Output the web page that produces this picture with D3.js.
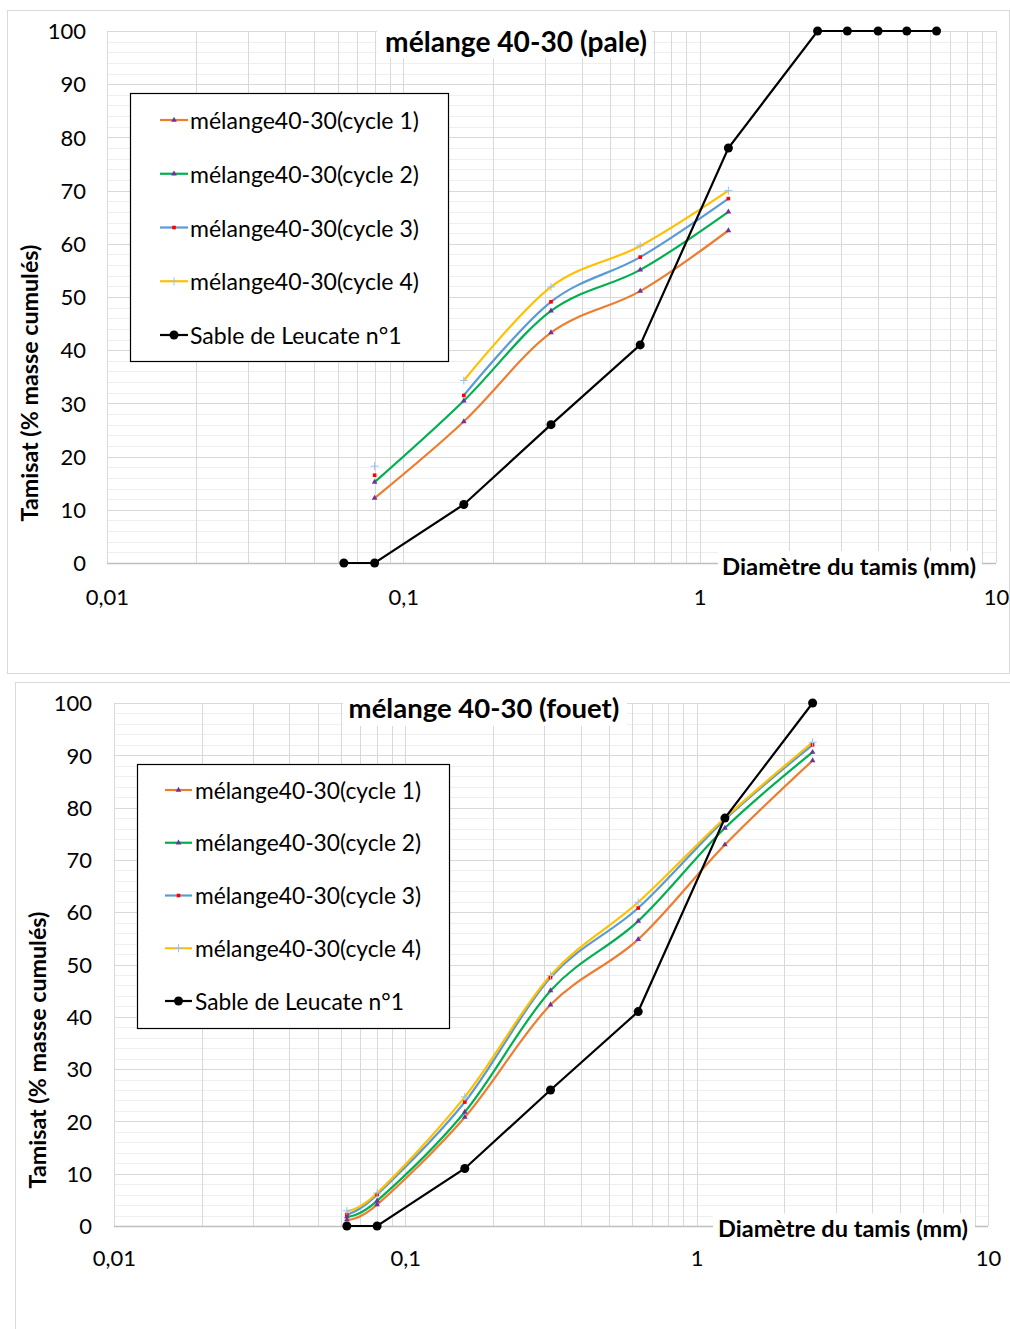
<!DOCTYPE html>
<html><head><meta charset="utf-8">
<script src="https://cdn.jsdelivr.net/npm/d3@7"></script>
<style>body{margin:0;background:#fff}svg{display:block}text{font-family:Lato,"Open Sans",sans-serif;fill:#000}</style>
</head><body>
<script>
// ---------- DATA ----------
const seriesNames = ["mélange40-30(cycle 1)","mélange40-30(cycle 2)","mélange40-30(cycle 3)","mélange40-30(cycle 4)","Sable de Leucate n°1"];
const xTickValues = [0.01, 0.1, 1, 10];
const xTickLabels = ["0,01", "0,1", "1", "10"];
const yTickValues = [0,10,20,30,40,50,60,70,80,90,100];

// Chart 1 : pale
const paleTitle = "mélange 40-30 (pale)";
const paleSieves = [0.08, 0.16, 0.315, 0.63, 1.25];
const paleCycle1 = [12.2, 26.6, 43.3, 51.1, 62.5];
const paleCycle2 = [15.2, 30.5, 47.4, 55.1, 66.0];
const paleCycle3 = [16.5, 31.5, 49.1, 57.5, 68.5];
const paleCycle4 = [18.2, 34.3, 51.9, 59.6, 70.0];
const paleLineStart = [0, 0, 1, 1];           // first point joined by the line
const sableSievesPale = [0.063, 0.08, 0.16, 0.315, 0.63, 1.25, 2.5, 3.15, 4, 5, 6.3];
const sablePale = [0, 0, 11, 26, 41, 78, 100, 100, 100, 100, 100];

// Chart 2 : fouet
const fouetTitle = "mélange 40-30 (fouet)";
const fouetSieves = [0.063, 0.08, 0.16, 0.315, 0.63, 1.25, 2.5];
const fouetCycle1 = [1.2, 4.1, 20.8, 42.3, 54.8, 72.9, 89.0];
const fouetCycle2 = [1.8, 4.8, 21.8, 45.0, 58.3, 76.1, 90.6];
const fouetCycle3 = [2.2, 6.0, 23.7, 47.5, 60.8, 77.7, 92.0];
const fouetCycle4 = [2.9, 6.3, 24.7, 47.9, 61.9, 78.0, 92.5];
const fouetLineStart = [0, 0, 0, 0];
const sableSievesFouet = [0.063, 0.08, 0.16, 0.315, 0.63, 1.25, 2.5];
const sableFouet = [0, 0, 11, 26, 41, 78, 100];

const xAxisTitle = "Diamètre du tamis (mm)";
const yAxisTitle = "Tamisat (% masse cumulés)";

// ---------- STYLE ----------
const lineColors = ["#ED7D31", "#00B050", "#5B9BD5", "#FFC000"];
const markerKinds = ["tri", "tri", "sq", "plus"];
const markerColors = ["#7030A0", "#7030A0", "#FF0000", "#9DC3E6"];

const W = 1010, H = 1329;
const svg = d3.select("body").append("svg").attr("width", W).attr("height", H);

function fitFont(sel, target, start) {
  sel.attr("font-size", start);
  const w = sel.node().getComputedTextLength();
  sel.attr("font-size", start * target / w);
}

function drawMarker(g, kind, color, cx, cy) {
  if (kind === "tri") {
    g.append("path").attr("d", d3.symbol().type(d3.symbolTriangle).size(14)()).attr("transform", `translate(${cx},${cy})`).attr("fill", color);
  } else if (kind === "sq") {
    g.append("rect").attr("x", cx - 1.8).attr("y", cy - 1.8).attr("width", 3.6).attr("height", 3.6).attr("fill", color);
  } else {
    g.append("path").attr("d", `M${cx-4},${cy}H${cx+4}M${cx},${cy-4}V${cy+4}`).attr("stroke", color).attr("stroke-width", 1);
  }
}

function drawChart(cfg) {
  const g = svg.append("g");
  g.append("rect").attr("x", cfg.frame[0] + 0.5).attr("y", cfg.frame[1] + 0.5).attr("width", cfg.frame[2]).attr("height", cfg.frame[3])
    .attr("fill", "#fff").attr("stroke", "#d9d9d9").attr("stroke-width", 1);

  const x = d3.scaleLog().domain([0.01, 10]).range([cfg.px0, cfg.px1]);
  const y = d3.scaleLinear().domain([0, 100]).range([cfg.py0, cfg.py1]);

  // horizontal grid
  const hMinor = d3.range(0, 101, 2).filter(v => v % 10 !== 0);
  g.append("g").selectAll("line").data(hMinor).join("line")
    .attr("x1", cfg.px0).attr("x2", cfg.px1).attr("y1", d => Math.round(y(d)) + 0.5).attr("y2", d => Math.round(y(d)) + 0.5)
    .attr("stroke", "#efefef").attr("stroke-width", 1);
  // vertical grid
  g.append("g").selectAll("line").data(x.ticks()).join("line")
    .attr("y1", cfg.py0).attr("y2", cfg.py1).attr("x1", d => Math.round(x(d)) + 0.5).attr("x2", d => Math.round(x(d)) + 0.5)
    .attr("stroke", "#d9d9d9").attr("stroke-width", 1);
  g.append("g").selectAll("line").data(yTickValues.slice(1)).join("line")
    .attr("x1", cfg.px0).attr("x2", cfg.px1).attr("y1", d => Math.round(y(d)) + 0.5).attr("y2", d => Math.round(y(d)) + 0.5)
    .attr("stroke", "#d9d9d9").attr("stroke-width", 1);
  // x axis line
  g.append("line").attr("x1", cfg.px0).attr("x2", cfg.px1).attr("y1", Math.round(y(0)) + 0.5).attr("y2", Math.round(y(0)) + 0.5)
    .attr("stroke", "#bfbfbf").attr("stroke-width", 1.3);

  // tick labels via axes
  const ya = g.append("g").attr("transform", `translate(${cfg.yLabX},0)`)
    .call(d3.axisLeft(y).tickValues(yTickValues).tickSize(0).tickPadding(0));
  ya.select(".domain").remove();
  ya.selectAll("text").attr("font-size", 22).attr("font-family", "Lato").attr("dy", "0.35em").attr("fill", "#000");
  const xa = g.append("g").attr("transform", `translate(0,${cfg.xLabY})`)
    .call(d3.axisBottom(x).tickValues(xTickValues).tickFormat((d, i) => xTickLabels[i]).tickSize(0).tickPadding(0));
  xa.select(".domain").remove();
  xa.selectAll("text").attr("font-size", 22).attr("font-family", "Lato").attr("dy", "0.35em").attr("fill", "#000");

  // title
  g.append("rect").attr("x", cfg.titleBox[0]).attr("y", cfg.titleBox[1]).attr("width", cfg.titleBox[2]).attr("height", cfg.titleBox[3]).attr("fill", "#fff");
  const t = g.append("text").text(cfg.title).attr("x", cfg.titleX).attr("y", cfg.titleY).attr("text-anchor", "middle")
    .attr("dominant-baseline", "central").attr("font-weight", "bold");
  fitFont(t, cfg.titleW, 24);

  // x axis title
  g.append("rect").attr("x", cfg.xtBox[0]).attr("y", cfg.xtBox[1]).attr("width", cfg.xtBox[2]).attr("height", cfg.xtBox[3]).attr("fill", "#fff");
  g.append("text").text(xAxisTitle).attr("x", cfg.xtX).attr("y", cfg.xtY).attr("dominant-baseline", "central")
    .attr("font-weight", "bold").attr("font-size", 22).attr("textLength", cfg.xtW).attr("lengthAdjust", "spacingAndGlyphs");

  // y axis title
  const yt = g.append("text").text(yAxisTitle).attr("transform", `translate(${cfg.ytX},${cfg.ytY}) rotate(-90)`)
    .attr("text-anchor", "middle").attr("dominant-baseline", "central").attr("font-weight", "bold");
  fitFont(yt, cfg.ytW, 20);

  // series
  const curve = d3.curveCatmullRom.alpha(0);
  cfg.cycles.forEach((vals, i) => {
    const pts = cfg.sieves.map((s, j) => [s, vals[j]]);
    const linePts = pts.slice(cfg.lineStart[i]);
    g.append("path").attr("d", d3.line().x(d => x(d[0])).y(d => y(d[1])).curve(curve)(linePts))
      .attr("fill", "none").attr("stroke", lineColors[i]).attr("stroke-width", 2.2);
  });
  cfg.cycles.forEach((vals, i) => {
    const mg = g.append("g");
    cfg.sieves.forEach((s, j) => drawMarker(mg, markerKinds[i], markerColors[i], x(s), y(vals[j])));
  });
  const sp = cfg.sableSieves.map((s, j) => [s, cfg.sable[j]]);
  g.append("path").attr("d", d3.line().x(d => x(d[0])).y(d => y(d[1]))(sp))
    .attr("fill", "none").attr("stroke", "#000").attr("stroke-width", 2.2);
  g.append("g").selectAll("circle").data(sp).join("circle")
    .attr("cx", d => x(d[0])).attr("cy", d => y(d[1])).attr("r", 4.5).attr("fill", "#000");

  // legend
  const L = cfg.legend;
  g.append("rect").attr("x", L.x + 0.5).attr("y", L.y + 0.5).attr("width", L.w).attr("height", L.h)
    .attr("fill", "#fff").attr("stroke", "#000").attr("stroke-width", 1.2);
  seriesNames.forEach((name, i) => {
    const ry = L.row0 + L.step * i;
    const color = i < 4 ? lineColors[i] : "#000";
    g.append("line").attr("x1", L.lx0).attr("x2", L.lx1).attr("y1", ry).attr("y2", ry).attr("stroke", color).attr("stroke-width", 2.2);
    if (i < 4) drawMarker(g, markerKinds[i], markerColors[i], (L.lx0 + L.lx1) / 2, ry);
    else g.append("circle").attr("cx", (L.lx0 + L.lx1) / 2).attr("cy", ry).attr("r", 4.5).attr("fill", "#000");
    const tx = g.append("text").text(name).attr("x", L.tx).attr("y", ry).attr("dominant-baseline", "central");
    if (i === 0) { fitFont(tx, L.textW, 21); L.fs = +tx.attr("font-size"); } else tx.attr("font-size", L.fs);
  });
}

drawChart({
  frame: [7, 10, 1002, 663],
  px0: 107, px1: 996, py0: 563, py1: 31,
  yLabX: 86, xLabY: 597,
  title: paleTitle, titleX: 516, titleY: 41, titleW: 262, titleBox: [377, 22, 275, 36],
  xtX: 722, xtY: 566, xtW: 254, xtBox: [718, 551, 264, 30],
  ytX: 29, ytY: 383, ytW: 277,
  sieves: paleSieves, cycles: [paleCycle1, paleCycle2, paleCycle3, paleCycle4], lineStart: paleLineStart,
  sableSieves: sableSievesPale, sable: sablePale,
  legend: { x: 130, y: 93, w: 318, h: 268, row0: 120, step: 53.75, lx0: 160, lx1: 188, tx: 190, textW: 229 }
});

drawChart({
  frame: [15, 682, 995, 660],
  px0: 114, px1: 988, py0: 1226, py1: 703,
  yLabX: 92, xLabY: 1258,
  title: fouetTitle, titleX: 484, titleY: 707, titleW: 271, titleBox: [343, 688, 284, 38],
  xtX: 718, xtY: 1228, xtW: 250, xtBox: [713, 1213, 262, 30],
  ytX: 37, ytY: 1050, ytW: 277,
  sieves: fouetSieves, cycles: [fouetCycle1, fouetCycle2, fouetCycle3, fouetCycle4], lineStart: fouetLineStart,
  sableSieves: sableSievesFouet, sable: sableFouet,
  legend: { x: 137, y: 764, w: 312, h: 264, row0: 790, step: 52.75, lx0: 165, lx1: 192, tx: 195, textW: 226 }
});
</script>
</body></html>
